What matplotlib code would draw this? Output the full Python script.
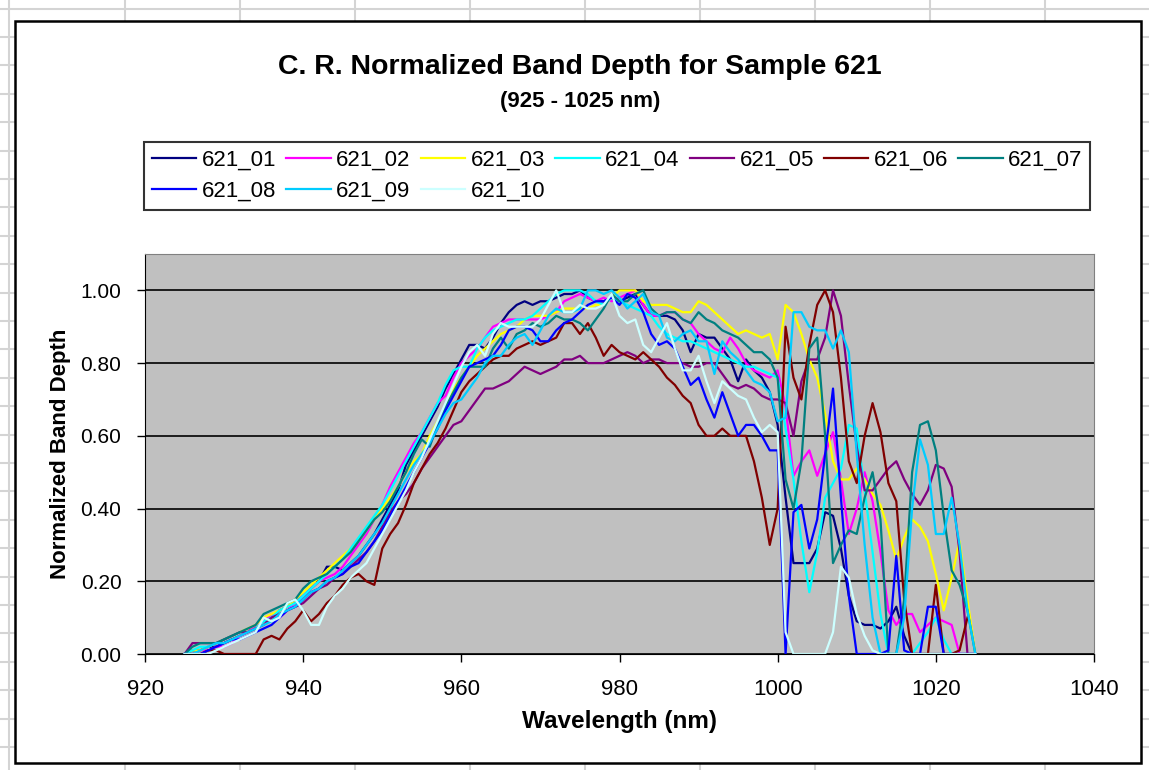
import numpy as np
import matplotlib
matplotlib.use('Agg')
import matplotlib.pyplot as plt
from matplotlib.lines import Line2D
from matplotlib.patches import Rectangle

plt.rcParams['font.family'] = ['Liberation Sans', 'DejaVu Sans']

# wavelength samples (nm)
wavelength = np.arange(925, 1026)

nan = np.nan

s621_01 = [0.00, 0.01, 0.01, 0.02, 0.02, 0.03, 0.04, 0.05, 0.06, 0.08,
           0.09, 0.10, 0.12, 0.13, 0.14, 0.16, 0.18, 0.20, 0.24, 0.24,
           0.23, 0.25, 0.27, 0.30, 0.33, 0.37, 0.41, 0.45, 0.52, 0.56,
           0.60, 0.64, 0.68, 0.73, 0.77, 0.81, 0.85, 0.85, 0.84, 0.87,
           0.91, 0.94, 0.96, 0.97, 0.96, 0.97, 0.97, 0.98, 0.99, 0.99,
           1.00, 0.98, 0.97, 0.97, 0.98, 0.97, 0.98, 0.99, 0.96, 0.93,
           0.93, 0.93, 0.92, 0.89, 0.83, 0.88, 0.87, 0.87, 0.84, 0.81,
           0.75, 0.81, 0.78, 0.76, 0.72, 0.63, 0.43, 0.25, 0.25, 0.25,
           0.29, 0.39, 0.38, 0.29, 0.16, 0.09, 0.08, 0.08, 0.07, 0.09,
           0.13, 0.05, 0.00, 0.00, 0.00, 0.00, 0.00, 0.00, 0.00, 0.00,
           0.00]

s621_02 = [0.00, 0.00, 0.01, 0.01, 0.02, 0.02, 0.03, 0.05, 0.06, 0.08,
           0.09, 0.11, 0.10, 0.12, 0.14, 0.16, 0.18, 0.20, 0.21, 0.22,
           0.24, 0.27, 0.30, 0.33, 0.37, 0.41, 0.46, 0.50, 0.54, 0.58,
           0.61, 0.65, 0.69, 0.71, 0.76, 0.80, 0.82, 0.84, 0.87, 0.90,
           0.91, 0.92, 0.92, 0.92, 0.92, 0.92, 0.93, 0.94, 0.97, 0.98,
           0.99, 0.98, 0.97, 0.98, 0.97, 0.98, 0.99, 1.00, 0.96, 0.93,
           0.93, 0.94, 0.94, 0.92, 0.91, 0.88, 0.86, 0.84, 0.83, 0.87,
           0.84, 0.80, 0.78, 0.77, 0.76, 0.78, 0.68, 0.49, 0.53, 0.56,
           0.49, 0.55, 0.61, 0.48, 0.33, 0.40, 0.50, 0.42, 0.28, 0.12,
           0.08, 0.11, 0.11, 0.06, 0.08, 0.10, 0.09, 0.08, 0.00, 0.00,
           0.00]

s621_03 = [0.00, 0.01, 0.01, 0.02, 0.03, 0.04, 0.05, 0.06, 0.07, 0.08,
           0.10, 0.11, 0.12, 0.13, 0.15, 0.17, 0.19, 0.21, 0.23, 0.25,
           0.27, 0.29, 0.31, 0.34, 0.37, 0.40, 0.43, 0.46, 0.50, 0.53,
           0.55, 0.60, 0.64, 0.68, 0.73, 0.76, 0.79, 0.82, 0.84, 0.86,
           0.88, 0.89, 0.90, 0.92, 0.93, 0.93, 0.93, 0.94, 0.95, 0.95,
           0.95, 0.95, 0.96, 0.96, 0.98, 1.00, 1.00, 1.00, 0.97, 0.96,
           0.96, 0.96, 0.95, 0.94, 0.94, 0.97, 0.96, 0.94, 0.92, 0.90,
           0.88, 0.89, 0.88, 0.87, 0.88, 0.81, 0.96, 0.94, 0.88, 0.81,
           0.76, 0.66, 0.53, 0.48, 0.48, 0.51, 0.48, 0.44, 0.41, 0.34,
           0.26, 0.32, 0.37, 0.35, 0.31, 0.22, 0.12, 0.21, 0.31, 0.15,
           0.00]

s621_04 = [0.00, 0.01, 0.02, 0.02, 0.03, 0.04, 0.05, 0.06, 0.06, 0.07,
           0.09, 0.10, 0.12, 0.13, 0.14, 0.16, 0.18, 0.20, 0.22, 0.24,
           0.26, 0.29, 0.32, 0.35, 0.38, 0.41, 0.45, 0.49, 0.53, 0.57,
           0.61, 0.65, 0.69, 0.74, 0.78, 0.79, 0.79, 0.84, 0.87, 0.89,
           0.90, 0.91, 0.92, 0.92, 0.93, 0.95, 0.97, 0.99, 1.00, 1.00,
           1.00, 0.99, 0.97, 0.96, 0.98, 0.97, 0.96, 0.95, 0.94, 0.93,
           0.90, 0.88, 0.87, 0.86, 0.86, 0.85, 0.84, 0.83, 0.82, 0.81,
           0.80, 0.79, 0.79, 0.78, 0.77, 0.76, 0.62, 0.48, 0.31, 0.17,
           0.28, 0.43, 0.47, 0.51, 0.63, 0.62, 0.45, 0.28, 0.11, 0.00,
           0.00, 0.00, 0.00, 0.03, 0.06, 0.10, 0.04, 0.00, 0.00, 0.00,
           0.00]

s621_05 = [0.00, 0.03, 0.03, 0.03, 0.03, 0.04, 0.05, 0.06, 0.06, 0.07,
           0.08, 0.10, 0.11, 0.12, 0.13, 0.14, 0.16, 0.18, 0.19, 0.21,
           0.22, 0.24, 0.26, 0.28, 0.31, 0.35, 0.39, 0.42, 0.44, 0.47,
           0.51, 0.54, 0.57, 0.60, 0.63, 0.64, 0.67, 0.70, 0.73, 0.73,
           0.74, 0.75, 0.77, 0.79, 0.78, 0.77, 0.78, 0.79, 0.81, 0.81,
           0.82, 0.80, 0.80, 0.80, 0.81, 0.82, 0.83, 0.82, 0.80, 0.81,
           0.81, 0.80, 0.80, 0.80, 0.79, 0.79, 0.80, 0.80, 0.77, 0.74,
           0.73, 0.74, 0.73, 0.71, 0.70, 0.70, 0.69, 0.60, 0.75, 0.81,
           0.81, 0.87, 1.00, 0.93, 0.74, 0.57, 0.45, 0.45, 0.48, 0.51,
           0.53, 0.48, 0.44, 0.41, 0.45, 0.52, 0.51, 0.46, 0.28, 0.00,
           0.00]

s621_06 = [0.00, 0.00, 0.00, 0.01, 0.01, 0.00, 0.00, 0.00, 0.00, 0.00,
           0.04, 0.05, 0.04, 0.07, 0.09, 0.12, 0.09, 0.11, 0.14, 0.16,
           0.19, 0.21, 0.22, 0.20, 0.19, 0.29, 0.33, 0.36, 0.41, 0.47,
           0.51, 0.55, 0.58, 0.62, 0.67, 0.72, 0.75, 0.77, 0.79, 0.81,
           0.82, 0.82, 0.84, 0.85, 0.86, 0.85, 0.86, 0.87, 0.91, 0.91,
           0.88, 0.91, 0.87, 0.82, 0.85, 0.83, 0.82, 0.81, 0.83, 0.81,
           0.79, 0.76, 0.74, 0.71, 0.69, 0.63, 0.60, 0.60, 0.62, 0.60,
           0.60, 0.60, 0.53, 0.43, 0.30, 0.40, 0.90, 0.76, 0.70, 0.85,
           0.96, 1.00, 0.94, 0.76, 0.53, 0.47, 0.60, 0.69, 0.61, 0.47,
           0.42, 0.15, 0.00, 0.00, 0.00, 0.19, 0.00, 0.00, 0.01, 0.10,
           nan]

s621_07 = [0.00, 0.02, 0.03, 0.03, 0.03, 0.04, 0.05, 0.06, 0.07, 0.08,
           0.11, 0.12, 0.13, 0.14, 0.15, 0.18, 0.20, 0.21, 0.22, 0.24,
           0.26, 0.28, 0.31, 0.34, 0.37, 0.39, 0.42, 0.46, 0.50, 0.55,
           0.59, 0.57, 0.63, 0.68, 0.72, 0.76, 0.79, 0.79, 0.79, 0.84,
           0.87, 0.84, 0.88, 0.89, 0.91, 0.90, 0.91, 0.93, 0.92, 0.92,
           0.91, 0.89, 0.92, 0.95, 0.99, 0.97, 0.97, 0.99, 1.00, 0.95,
           0.93, 0.94, 0.94, 0.92, 0.91, 0.94, 0.92, 0.91, 0.89, 0.88,
           0.87, 0.85, 0.83, 0.83, 0.81, 0.76, 0.48, 0.40, 0.53, 0.84,
           0.87, 0.60, 0.25, 0.30, 0.34, 0.33, 0.43, 0.50, 0.37, 0.00,
           0.00, 0.15, 0.50, 0.63, 0.64, 0.56, 0.38, 0.23, 0.19, 0.12,
           0.00]

s621_08 = [0.00, 0.00, 0.00, 0.01, 0.02, 0.03, 0.04, 0.04, 0.05, 0.06,
           0.07, 0.08, 0.10, 0.12, 0.13, 0.15, 0.17, 0.18, 0.20, 0.21,
           0.22, 0.24, 0.25, 0.28, 0.31, 0.34, 0.38, 0.42, 0.46, 0.50,
           0.54, 0.58, 0.62, 0.67, 0.71, 0.75, 0.79, 0.80, 0.81, 0.82,
           0.85, 0.89, 0.90, 0.90, 0.89, 0.86, 0.86, 0.89, 0.91, 0.92,
           0.94, 0.96, 0.97, 0.97, 0.98, 0.96, 0.99, 0.98, 0.94, 0.88,
           0.85, 0.86, 0.84, 0.79, 0.74, 0.76, 0.70, 0.65, 0.72, 0.66,
           0.60, 0.63, 0.63, 0.60, 0.56, 0.56, 0.00, 0.39, 0.41, 0.29,
           0.37, 0.55, 0.73, 0.43, 0.16, 0.00, 0.00, 0.00, 0.00, 0.01,
           0.27, 0.01, 0.00, 0.00, 0.13, 0.13, 0.00, 0.00, 0.00, 0.00,
           0.00]

s621_09 = [0.00, 0.00, 0.01, 0.02, 0.03, 0.03, 0.04, 0.05, 0.06, 0.07,
           0.08, 0.09, 0.11, 0.12, 0.13, 0.15, 0.17, 0.18, 0.20, 0.21,
           0.23, 0.25, 0.27, 0.30, 0.33, 0.36, 0.40, 0.44, 0.48, 0.52,
           0.55, 0.58, 0.62, 0.66, 0.69, 0.70, 0.73, 0.76, 0.80, 0.82,
           0.82, 0.85, 0.87, 0.88, 0.85, 0.89, 0.93, 0.95, 0.94, 0.94,
           0.95, 1.00, 1.00, 0.99, 1.00, 0.98, 0.95, 0.97, 0.99, 0.94,
           0.93, 0.87, 0.86, 0.88, 0.89, 0.86, 0.86, 0.77, 0.86, 0.83,
           0.81, 0.78, 0.75, 0.74, 0.72, 0.64, 0.65, 0.94, 0.94, 0.90,
           0.89, 0.89, 0.84, 0.89, 0.83, 0.55, 0.30, 0.10, 0.00, 0.00,
           0.00, 0.10, 0.40, 0.59, 0.52, 0.33, 0.33, 0.43, 0.30, 0.12,
           0.00]

s621_10 = [0.00, 0.00, 0.00, 0.00, 0.01, 0.02, 0.03, 0.04, 0.05, 0.06,
           0.10, 0.09, 0.10, 0.14, 0.15, 0.12, 0.08, 0.08, 0.13, 0.16,
           0.18, 0.21, 0.23, 0.25, 0.29, 0.33, 0.37, 0.41, 0.45, 0.50,
           0.54, 0.59, 0.64, 0.69, 0.74, 0.79, 0.83, 0.85, 0.82, 0.88,
           0.91, 0.90, 0.90, 0.90, 0.90, 0.92, 0.96, 1.00, 0.94, 0.94,
           0.96, 0.95, 0.95, 0.96, 0.99, 0.93, 0.91, 0.92, 0.85, 0.83,
           0.87, 0.91, 0.84, 0.78, 0.78, 0.82, 0.75, 0.69, 0.75, 0.73,
           0.71, 0.70, 0.65, 0.61, 0.63, 0.61, 0.06, 0.00, 0.00, 0.00,
           0.00, 0.00, 0.06, 0.24, 0.21, 0.11, 0.05, 0.01, 0.00, 0.00,
           0.00, 0.00, 0.00, 0.00, 0.00, 0.00, 0.00, 0.00, 0.00, 0.00,
           0.00]

labels = ['621_01', '621_02', '621_03', '621_04', '621_05',
          '621_06', '621_07', '621_08', '621_09', '621_10']
series = [s621_01, s621_02, s621_03, s621_04, s621_05,
          s621_06, s621_07, s621_08, s621_09, s621_10]
colors = ['#000080', '#FF00FF', '#FFFF00', '#00FFFF', '#800080',
          '#800000', '#008080', '#0000FF', '#00CCFF', '#CCFFFF']

W, H = 1149, 770
fig = plt.figure(figsize=(W / 100, H / 100), dpi=100)
fig.patch.set_facecolor('white')

# spreadsheet cell grid behind the chart object
for gx in [9, 124.5, 239.6, 354.7, 469.8, 584.9, 700, 815, 930, 1045]:
    fig.add_artist(Line2D([gx / W, gx / W], [0, 1], color='#d4d4d4', lw=1.5,
                          transform=fig.transFigure, zorder=-3))
for gy in np.arange(8.6, 770, 28.4):
    fig.add_artist(Line2D([0, 1], [1 - gy / H, 1 - gy / H], color='#d4d4d4', lw=1.5,
                          transform=fig.transFigure, zorder=-3))

# chart object frame
fig.add_artist(Rectangle((15 / W, 1 - 763 / H), (1141 - 15) / W, (763 - 21) / H,
                         facecolor='white', edgecolor='black', lw=1.8,
                         transform=fig.transFigure, zorder=-2))

ax = fig.add_axes([145 / W, 1 - 654 / H, (1094 - 145) / W, (654 - 254) / H])
ax.set_facecolor('#C0C0C0')

lines = []
for vals, lab, col in zip(series, labels, colors):
    ln, = ax.plot(wavelength, vals, color=col, lw=1.6, label=lab)
    lines.append(ln)

ax.set_xlim(920, 1040)
ax.set_ylim(0, 1.1)
ax.set_xticks(np.arange(920, 1041, 20))
ax.set_yticks(np.arange(0, 1.01, 0.2))
ax.set_yticklabels([f'{v:.2f}' for v in np.arange(0, 1.01, 0.2)])
ax.yaxis.grid(True, color='black', lw=1.2)
ax.set_axisbelow(True)
ax.tick_params(axis='both', direction='out', length=6, width=1, color='black')
ax.tick_params(axis='x', pad=12, labelsize=16)
ax.tick_params(axis='y', pad=11, labelsize=15)
for side in ['top', 'right']:
    ax.spines[side].set_color('#808080')
for side in ['left', 'bottom']:
    ax.spines[side].set_color('black')

ax.set_xlabel('Wavelength (nm)', fontsize=17.5, fontweight='bold', labelpad=7)
ax.set_ylabel('Normalized Band Depth', fontsize=16, fontweight='bold', labelpad=7)

fig.text(580 / W, 1 - 67 / H, 'C. R. Normalized Band Depth for Sample 621',
         ha='center', va='center', fontsize=20.5, fontweight='bold')
fig.text(580 / W, 1 - 101 / H, '(925 - 1025 nm)',
         ha='center', va='center', fontsize=16, fontweight='bold')

# Excel fills the legend row by row; matplotlib fills by column
order = [0, 7, 1, 8, 2, 9, 3, 4, 5, 6]
leg = fig.legend([lines[i] for i in order], [labels[i] for i in order],
                 loc='upper left', bbox_to_anchor=(144 / W, 1 - 142 / H), ncol=7,
                 fontsize=16, frameon=True, fancybox=False, handlelength=2.0,
                 handletextpad=0.25, columnspacing=0.45, labelspacing=0.45,
                 borderpad=0.35, borderaxespad=0)
leg.get_frame().set_edgecolor('black')
leg.get_frame().set_linewidth(1.5)

fig.savefig('out.png', dpi=100)
